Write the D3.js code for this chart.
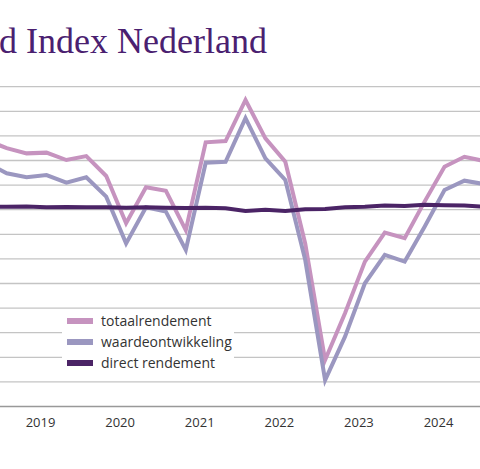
<!DOCTYPE html>
<html>
<head>
<meta charset="utf-8">
<script src="https://cdn.jsdelivr.net/npm/d3@7"></script>
<style>
  body { margin: 0; background: #fff; }
</style>
</head>
<body>
<div id="chart"></div>
<script>
// quarter index (-1 = 2018 Q3), tick labels
var quarters = d3.range(-1, 25);
var yearTicks = [1.7, 5.7, 9.7, 13.7, 17.7, 21.7];
var yearLabels = ["2019", "2020", "2021", "2022", "2023", "2024"];
var gridValues = d3.range(-8, 6);

// series values
var totaal = [2.83, 2.5, 2.29, 2.32, 2.02, 2.18, 1.37, -0.55, 0.91, 0.77, -0.83, 2.74, 2.79, 4.46, 2.9, 1.95,
  -1.37, -6.11, -4.21, -2.11, -0.93, -1.16, 0.33, 1.75, 2.15, 1.98];
var waarde = [1.9, 1.48, 1.32, 1.41, 1.1, 1.32, 0.53, -1.37, 0.1, -0.08, -1.64, 1.91, 1.95, 3.72, 2.09, 1.21,
  -2.04, -6.93, -5.16, -2.99, -1.84, -2.11, -0.69, 0.8, 1.18, 1.04];
var direct = [0.12, 0.12, 0.13, 0.1, 0.11, 0.1, 0.1, 0.08, 0.1, 0.08, 0.07, 0.08, 0.06, -0.05, 0.0, -0.05,
  0.02, 0.03, 0.1, 0.12, 0.17, 0.15, 0.2, 0.18, 0.17, 0.12];

var seriesNames = ["totaalrendement", "waardeontwikkeling", "direct rendement"];
var seriesColors = ["#c693bf", "#9b97c0", "#4b2466"];

var width = 480, height = 469;

var svg = d3.select("#chart")
    .append("svg")
    .attr("width", width)
    .attr("height", height);

// scales
var x = d3.scaleLinear().domain([0, 1]).range([6.7, 26.6]);
var y = d3.scaleLinear().domain([0, 1]).range([209.7, 185.1]);

// title (cropped at the left edge, as in the source)
svg.append("text")
    .attr("x", 267)
    .attr("y", 53)
    .attr("text-anchor", "end")
    .attr("font-family", "Liberation Serif, serif")
    .attr("font-size", 36)
    .attr("fill", "#4a2070")
    .text("Vastgoed Index Nederland");

// grid lines
svg.selectAll(".grid")
    .data(gridValues)
    .enter()
    .append("line")
    .attr("x1", 0)
    .attr("x2", width)
    .attr("y1", function (d) { return y(d); })
    .attr("y2", function (d) { return y(d); })
    .attr("stroke", function (d) { return d === -8 ? "#999" : "#c4c4c4"; })
    .attr("stroke-width", 1.3);

// year labels
svg.selectAll(".year")
    .data(yearTicks)
    .enter()
    .append("text")
    .attr("x", function (d) { return x(d); })
    .attr("y", 427)
    .attr("text-anchor", "middle")
    .attr("font-family", "Open Sans, sans-serif")
    .attr("font-size", 13)
    .attr("fill", "#333")
    .text(function (d, i) { return yearLabels[i]; });

// legend (white box hides the grid behind it)
var legend = svg.append("g");
legend.append("rect")
    .attr("x", 62).attr("y", 310).attr("width", 172).attr("height", 63)
    .attr("fill", "#fff");
seriesNames.forEach(function (name, i) {
    var ly = 321 + i * 21;
    legend.append("line")
        .attr("x1", 67).attr("x2", 93)
        .attr("y1", ly).attr("y2", ly)
        .attr("stroke", seriesColors[i])
        .attr("stroke-width", 6);
    legend.append("text")
        .attr("x", 101).attr("y", ly + 5)
        .attr("font-family", "Open Sans, sans-serif")
        .attr("font-size", 14)
        .attr("fill", "#333")
        .text(name);
});

// lines
var line = d3.line()
    .x(function (d, i) { return x(quarters[i]); })
    .y(function (d) { return y(d); });

[totaal, waarde, direct].forEach(function (values, i) {
    svg.append("path")
        .datum(values)
        .attr("fill", "none")
        .attr("stroke", seriesColors[i])
        .attr("stroke-width", 4)
        .attr("stroke-linejoin", "miter")
        .attr("d", line);
});
</script>
</body>
</html>
